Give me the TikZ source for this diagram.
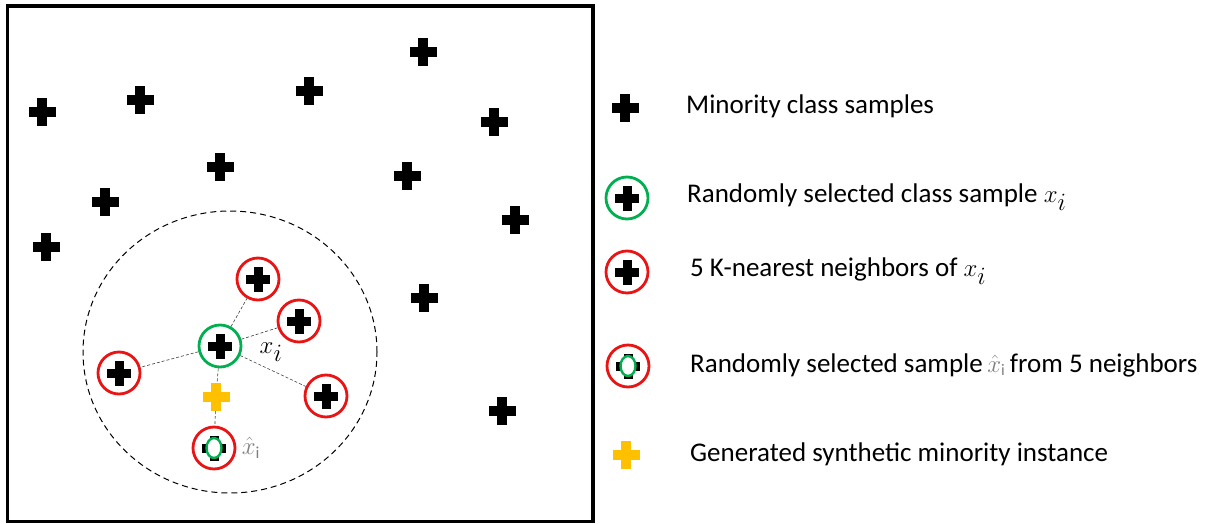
\documentclass[tikz,border=0pt]{standalone}
\usepackage{fontspec}
\setmainfont{Carlito}
\usetikzlibrary{calc}
\definecolor{selgreen}{RGB}{0,176,80}
\definecolor{nbred}{RGB}{235,20,20}
\definecolor{synthyellow}{RGB}{255,192,0}
\definecolor{linkgray}{RGB}{60,60,60}
\newcommand{\bigxi}{{\fontsize{33}{33}\selectfont$x_i$}}
\tikzset{
  % a bold plus sign drawn inside a node of fixed size
  plusmark/.style={shape=rectangle, minimum size=28pt, inner sep=0pt,
    path picture={
      \fill[#1] ($(path picture bounding box.center)+(-13.5pt,-5pt)$) rectangle ++(27pt,10pt);
      \fill[#1] ($(path picture bounding box.center)+(-5pt,-14pt)$) rectangle ++(10pt,28pt);
    }},
  plusmark/.default=black,
  ringed/.style={shape=circle, minimum size=42pt, inner sep=0pt, draw=#1, line width=2.8pt,
    path picture={
      \fill[black] ($(path picture bounding box.center)+(-12pt,-4.5pt)$) rectangle ++(24pt,9pt);
      \fill[black] ($(path picture bounding box.center)+(-4.5pt,-12.5pt)$) rectangle ++(9pt,25pt);
    }},
  % neighbour ring with the chosen-sample oval inside
  picked/.style={shape=circle, minimum size=42pt, inner sep=0pt, draw=nbred, line width=2.8pt,
    path picture={
      \fill[black] ($(path picture bounding box.center)+(-12pt,-4.5pt)$) rectangle ++(24pt,9pt);
      \fill[black] ($(path picture bounding box.center)+(-4.5pt,-12.5pt)$) rectangle ++(9pt,25pt);
      \draw[selgreen, line width=2.4pt, fill=white]
        (path picture bounding box.center) ellipse (7.5pt and 10pt);
    }},
  link/.style={linkgray, densely dashed, line width=0.6pt},
  legendtext/.style={anchor=west, inner sep=0pt, font=\fontsize{27}{30}\selectfont},
}
\begin{document}
\begin{tikzpicture}[x=1pt, y=-1pt]
\useasboundingbox (0,0) rectangle (1210,524);
% feature space frame
\draw[line width=3.5pt] (7.5,6) rectangle (593,521.5);
% neighbourhood of the selected sample
\draw[dash pattern=on 6pt off 4pt, line width=1pt] (230,352) ellipse (147pt and 141pt);
% scattered minority samples
\node[plusmark] (m1) at (42,112) {};
\node[plusmark] (m2) at (140,100) {};
\node[plusmark] (m3) at (309,91) {};
\node[plusmark] (m4) at (423,52) {};
\node[plusmark] (m5) at (494,122) {};
\node[plusmark] (m6) at (220,167) {};
\node[plusmark] (m7) at (407,176) {};
\node[plusmark] (m8) at (105,202) {};
\node[plusmark] (m9) at (515,220) {};
\node[plusmark] (m10) at (46,247) {};
\node[plusmark] (m11) at (424,298) {};
\node[plusmark] (m12) at (502,411) {};
% selected sample, its neighbours and the synthetic instance
\node[ringed=selgreen] (xi) at (220,346) {};
\node[ringed=nbred] (n1) at (258,279) {};
\node[ringed=nbred] (n2) at (299,321) {};
\node[ringed=nbred] (n3) at (119,373) {};
\node[ringed=nbred] (n4) at (326,396) {};
\node[picked] (xh) at (214,448) {};
\node[plusmark=synthyellow] (syn) at (216,397) {};
\draw[link] (xi) -- (n1);
\draw[link] (xi) -- (n2);
\draw[link] (xi) -- (n3);
\draw[link] (xi) -- (n4);
\draw[link] (xi) -- (syn);
\draw[link] (syn) -- (xh);
\node[font=\fontsize{37}{38}\selectfont] (lxi) at (271,352) {$x_i$};
\node[font=\fontsize{24}{26}\selectfont, text=gray] (lxh) at (251,448) {$\hat{x}_{\mathrm{i}}$};
% legend
\node[plusmark] (k1) at (625,108) {};
\node[ringed=selgreen] (k2) at (627,198) {};
\node[ringed=nbred] (k3) at (627,272) {};
\node[picked] (k4) at (628,366) {};
\node[plusmark=synthyellow] (k5) at (626,455) {};
\node[legendtext] (t1) at (686,106) {Minority class samples};
\node[legendtext] (t2) at (687,197) {Randomly selected class sample \bigxi};
\node[legendtext] (t3) at (690,271) {5 K-nearest neighbors of \bigxi};
\node[legendtext] (t4) at (690,365) {Randomly selected sample\,{\color{gray}\fontsize{23}{24}\selectfont$\hat{x}_{\mathrm{i}}$}\,from 5 neighbors};
\node[legendtext] (t5) at (690,454) {Generated synthetic minority instance};
\end{tikzpicture}
\end{document}
